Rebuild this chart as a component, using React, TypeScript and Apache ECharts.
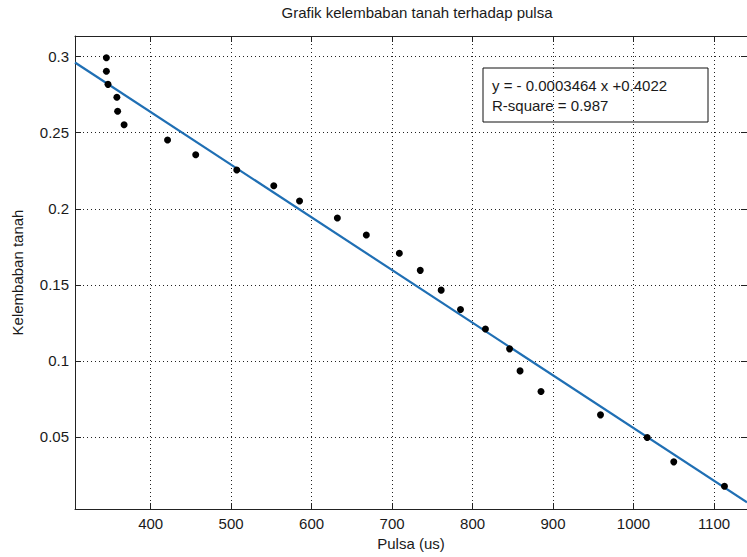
import React, { useEffect, useRef } from "react";
import * as echarts from "echarts";

const pulsa = [345, 345, 347, 358, 359, 367, 421, 456, 507, 553, 585, 632, 668, 709, 735, 761, 785, 816, 846, 859, 885, 959, 1017, 1050, 1113];
const kelembaban = [0.2993, 0.2904, 0.2818, 0.2733, 0.2641, 0.2553, 0.2452, 0.2355, 0.2255, 0.2151, 0.2051, 0.1939, 0.1827, 0.1707, 0.1595, 0.1465, 0.1338, 0.1209, 0.1079, 0.0934, 0.0799, 0.0645, 0.0496, 0.0336, 0.0175];
const slope = -0.0003464;
const intercept = 0.4022;
const xRange = [306, 1141];
const yRange = [0.0026, 0.3136];
const titleText = "Grafik kelembaban tanah terhadap pulsa";
const xName = "Pulsa (us)";
const yName = "Kelembaban tanah";
const eqLines = ["y = - 0.0003464 x +0.4022", "R-square = 0.987"];

const FONT = "'Liberation Sans', Arial, sans-serif";
const TXT = "#1a1a1a";

export default function App() {
  const ref = useRef<HTMLDivElement>(null);
  useEffect(() => {
    if (!ref.current) return;
    const chart = echarts.init(ref.current, null, { renderer: "svg" });
    const points = pulsa.map((x, i) => [x, kelembaban[i]]);
    const fit = xRange.map((x) => [x, slope * x + intercept]);
    const grid = { left: 75, top: 36, width: 673, height: 473 };
    const gridLine = { show: true, lineStyle: { color: "#222", width: 1, type: [1, 3] as any } };
    const axisLine = { show: true, lineStyle: { color: "#222", width: 1 } };
    const tick = { show: true, inside: true, length: 6, lineStyle: { color: "#222" } };
    const fmt = (v: number) => String(+v.toFixed(4));
    chart.setOption({
      animation: false,
      backgroundColor: "#fff",
      title: {
        text: titleText,
        left: 412,
        top: 0,
        textAlign: "center",
        textStyle: { fontFamily: FONT, fontSize: 15, fontWeight: "normal", color: TXT },
      },
      grid,
      xAxis: [
        {
          type: "value",
          min: xRange[0],
          max: xRange[1],
          splitNumber: 8,
          name: xName,
          nameLocation: "middle",
          nameGap: 24,
          nameTextStyle: { fontFamily: FONT, fontSize: 15, color: TXT, verticalAlign: "top" },
          axisLine,
          axisTick: tick,
          splitLine: gridLine,
          axisLabel: { fontFamily: FONT, fontSize: 15, color: TXT, margin: 7, showMinLabel: false, showMaxLabel: false, formatter: fmt },
        },
        {
          type: "value",
          position: "top",
          min: xRange[0],
          max: xRange[1],
          splitNumber: 8,
          axisLine,
          axisTick: tick,
          splitLine: { show: false },
          axisLabel: { show: false },
        },
      ],
      yAxis: [
        {
          type: "value",
          min: yRange[0],
          max: yRange[1],
          splitNumber: 6,
          name: yName,
          nameLocation: "middle",
          nameGap: 50,
          nameTextStyle: { fontFamily: FONT, fontSize: 15, color: TXT },
          axisLine,
          axisTick: tick,
          splitLine: gridLine,
          axisLabel: { fontFamily: FONT, fontSize: 15, color: TXT, margin: 6, showMinLabel: false, showMaxLabel: false, formatter: fmt },
        },
        {
          type: "value",
          position: "right",
          min: yRange[0],
          max: yRange[1],
          splitNumber: 6,
          axisLine,
          axisTick: tick,
          splitLine: { show: false },
          axisLabel: { show: false },
        },
      ],
      series: [
        {
          type: "line",
          data: fit,
          showSymbol: false,
          lineStyle: { color: "#1f6fb4", width: 2.2 },
          clip: true,
          z: 2,
        },
        {
          type: "scatter",
          data: points,
          symbolSize: 7,
          itemStyle: { color: "#000", opacity: 1 },
          z: 3,
        },
      ],
      graphic: [
        {
          type: "rect",
          shape: { x: 483, y: 68, width: 225, height: 54 },
          style: { fill: "transparent", stroke: "#111", lineWidth: 1 },
          z: 10,
        },
        {
          type: "text",
          x: 492,
          y: 85,
          style: { text: eqLines[0], font: `15px ${FONT}`, fill: TXT, verticalAlign: "middle" },
          z: 10,
        },
        {
          type: "text",
          x: 492,
          y: 105,
          style: { text: eqLines[1], font: `15px ${FONT}`, fill: TXT, verticalAlign: "middle" },
          z: 10,
        },
      ],
    });
    return () => chart.dispose();
  }, []);
  return <div ref={ref} style={{ position: "fixed", left: 0, top: 0, width: 747, height: 557 }} />;
}
